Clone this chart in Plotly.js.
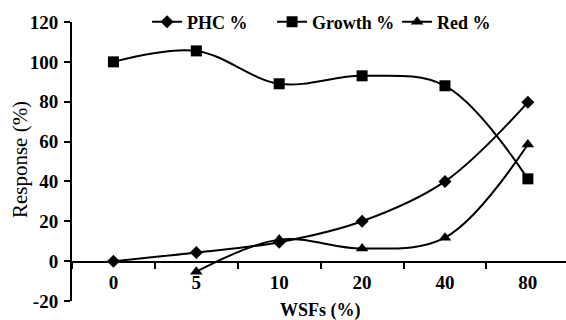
<!DOCTYPE html>
<html>
<head>
<meta charset="utf-8">
<script src="https://cdn.plot.ly/plotly-3.0.1.min.js"></script>
<style>html,body{margin:0;padding:0;background:#fff;}#chart{width:566px;height:320px;}</style>
</head>
<body>
<div id="chart"></div>
<script>
var categories = ['0', '5', '10', '20', '40', '80'];
var phcValues = [0, 4.3, 9.5, 20, 40, 79.7];
var growthValues = [100, 105.5, 89, 93, 88, 41.3];
var redCategories = ['5', '10', '20', '40', '80'];
var redValues = [-5.3, 10.8, 6.3, 11.8, 58.5];
var yTicks = [-20, 0, 20, 40, 60, 80, 100, 120];

var FONT = '"Liberation Serif", "Times New Roman", serif';
var lineStyle = {color: '#000', width: 2, shape: 'spline', smoothing: 1};
function bold(s) { return '<b>' + s + '</b>'; }

var traces = [
  {x: categories, y: phcValues, name: 'PHC %', type: 'scatter', mode: 'lines+markers',
   line: lineStyle, marker: {symbol: 'diamond', size: 10, color: '#000'}},
  {x: categories, y: growthValues, name: 'Growth %', type: 'scatter', mode: 'lines+markers',
   line: lineStyle, marker: {symbol: 'square', size: 11, color: '#000'}},
  {x: redCategories, y: redValues, name: 'Red %', type: 'scatter', mode: 'lines+markers',
   line: lineStyle, marker: {symbol: 'triangle-up', size: 11, color: '#000'}}
];

var layout = {
  width: 566, height: 320,
  margin: {l: 72, r: 0, t: 22, b: 19, pad: 0},
  paper_bgcolor: '#fff', plot_bgcolor: '#fff',
  font: {family: FONT, color: '#000', size: 17},
  showlegend: true,
  legend: {orientation: 'h', x: 0.152, xanchor: 'left', y: 1.0, yanchor: 'middle',
           entrywidthmode: 'pixels', entrywidth: 80,
           font: {family: FONT, size: 18, weight: 'bold', color: '#000'},
           bgcolor: 'rgba(0,0,0,0)', borderwidth: 0},
  xaxis: {
    type: 'category', categoryorder: 'array', categoryarray: categories,
    tickmode: 'array', tickvals: categories, ticktext: categories.map(bold),
    range: [-0.5, 5.46], anchor: 'free', position: 20 / 140,
    showline: true, linecolor: '#000', linewidth: 1.5,
    ticks: 'outside', tickson: 'boundaries', ticklen: 6, tickwidth: 2, tickcolor: '#000',
    ticklabelstandoff: 4,
    showgrid: false, zeroline: false,
    tickfont: {family: FONT, size: 19, color: '#000'}
  },
  yaxis: {
    range: [-20, 120], tickmode: 'array', tickvals: yTicks, ticktext: yTicks.map(bold),
    showline: true, linecolor: '#000', linewidth: 2,
    ticks: 'outside', ticklen: 6, tickwidth: 2, tickcolor: '#000',
    ticklabelstandoff: 2,
    showgrid: false, zeroline: false,
    tickfont: {family: FONT, size: 19, color: '#000'}
  },
  annotations: [
    {text: '<b>WSFs (%)</b>', xref: 'x', yref: 'paper', x: 2.5, y: 0, yshift: 3, xanchor: 'center', yanchor: 'top',
     showarrow: false, font: {family: FONT, size: 18, color: '#000'}},
    {text: 'Response (%)', xref: 'paper', yref: 'paper', x: 0, xshift: -52, y: 0.505,
     xanchor: 'center', yanchor: 'middle', textangle: -90, showarrow: false,
     font: {family: FONT, size: 21, color: '#000'}}
  ]
};

Plotly.newPlot('chart', traces, layout, {displayModeBar: false, staticPlot: true});
</script>
</body>
</html>
